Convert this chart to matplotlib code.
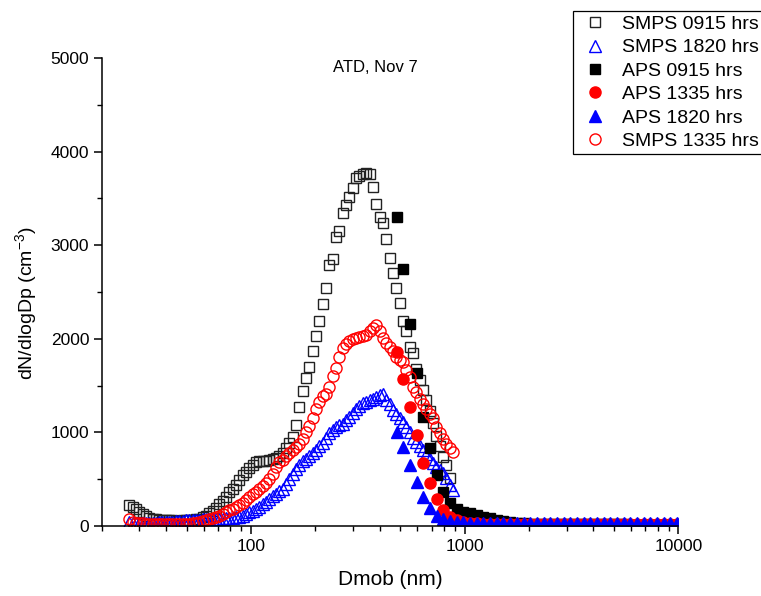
import numpy as np
import matplotlib
matplotlib.use("Agg")
import matplotlib.pyplot as plt
from matplotlib.ticker import MultipleLocator, FuncFormatter, NullFormatter, LogLocator

plt.rcParams["font.family"] = ["Liberation Sans", "DejaVu Sans"]
plt.rcParams["mathtext.fontset"] = "custom"
plt.rcParams["mathtext.rm"] = "Liberation Sans"
plt.rcParams["mathtext.it"] = "Liberation Sans:italic"

# SMPS mobility diameters (nm), 64 channels / decade
smps_d = [26.9, 27.9, 28.9, 30.0, 31.1, 32.2, 33.4, 34.6, 35.9, 37.2,
          38.5, 40.0, 41.4, 42.9, 44.5, 46.1, 47.8, 49.6, 51.4, 53.3,
          55.2, 57.3, 59.4, 61.5, 63.8, 66.1, 68.5, 71.0, 73.7, 76.4,
          79.1, 82.0, 85.1, 88.2, 91.4, 94.7, 98.2, 101.8, 105.5, 109.4,
          113.4, 117.6, 121.9, 126.3, 131.0, 135.8, 140.7, 145.9, 151.2, 156.8,
          162.5, 168.5, 174.7, 181.1, 187.7, 194.6, 201.7, 209.1, 216.7, 224.7,
          232.9, 241.4, 250.3, 259.5, 269.0, 278.8, 289.0, 299.6, 310.6, 322.0,
          333.8, 346.0, 358.7, 371.8, 385.4, 399.5, 414.2, 429.4, 445.1, 461.4,
          478.3, 495.8, 514.0, 532.8, 552.3, 572.5, 593.5, 615.3, 637.8, 661.2,
          685.4, 710.5, 736.5, 763.5, 791.5, 820.5, 850.5, 881.7]

smps_0915 = [224, 200, 178, 153, 128, 107, 89, 78, 72, 68,
             64, 62, 60, 60, 58, 58, 60, 60, 62, 66,
             72, 80, 92, 110, 135, 165, 190, 230, 265, 305,
             360, 400, 440, 490, 545, 580, 620, 655, 685, 698,
             690, 695, 705, 720, 725, 750, 776, 830, 883, 954,
             1079, 1275, 1442, 1578, 1695, 1873, 2033, 2187, 2372, 2546,
             2785, 2856, 3084, 3148, 3340, 3429, 3511, 3608, 3715, 3743,
             3761, 3775, 3761, 3625, 3437, 3305, 3234, 3066, 2867, 2700,
             2539, 2386, 2190, 2083, 1916, 1845, 1674, 1560, 1453, 1346,
             1232, 1100, 960, 850, 740, 652, 510, np.nan]

smps_1335 = [71, 46, 35, 30, 28, 26, 25, 25, 24, 24,
             24, 24, 24, 24, 24, 25, 25, 26, 27, 28,
             30, 38, 50, 64, 71, 85, 100, 112, 125, 153,
             168, 180, 200, 225, 250, 283, 315, 345, 365, 395,
             425, 462, 500, 560, 630, 680, 710, 745, 780, 815,
             845, 875, 935, 1000, 1065, 1150, 1250, 1330, 1385, 1410,
             1480, 1600, 1690, 1810, 1905, 1948, 1980, 1995, 2007, 2020,
             2030, 2045, 2080, 2115, 2150, 2080, 2005, 1950, 1912, 1870,
             1806, 1772, 1750, 1662, 1590, 1488, 1430, 1360, 1300, 1245,
             1195, 1150, 1060, 990, 930, 880, 830, 790]

smps_1820 = [40, 35, 32, 30, 30, 30, 32, 34, 36, 38,
             40, 42, 45, 48, 52, 55, 58, 60, 62, 64,
             66, 68, 70, 70, 72, 74, 76, 78, 80, 82,
             85, 88, 92, 100, 110, 125, 145, 165, 185, 205,
             230, 255, 290, 320, 345, 370, 400, 450, 500, 555,
             605, 650, 690, 720, 745, 780, 812, 850, 890, 940,
             990, 1030, 1055, 1075, 1095, 1130, 1170, 1210, 1245, 1280,
             1310, 1330, 1345, 1360, 1375, 1395, 1415, 1345, 1300, 1240,
             1195, 1150, 1110, 1058, 1000, 945, 895, 850, 810, 765,
             715, 670, 635, 600, 563, 515, 440, 385]

# APS channels converted to mobility diameter (nm)
aps_d = [480, 517, 555, 596, 641, 688, 740, 796, 855, 919,
         987, 1061, 1139, 1224, 1317, 1414, 1519, 1633, 1755, 1886,
         2027, 2178, 2341, 2515, 2703, 2904, 3121, 3354, 3604, 3873,
         4162, 4473, 4807, 5165, 5550, 5965, 6409, 6888, 7402, 7954,
         8547, 9188, 9870]

aps_0915 = [3298, 2743, 2158, 1631, 1168, 830, 545, 360, 242, 178,
            153, 136, 118, 100, 82, 64, 53, 43, 35, 30,
            27, 25, 23, 22, 21, 20, 20, 19, 19, 18,
            18, 18, 17, 17, 17, 16, 16, 16, 16, 15,
            15, 15, 15]

aps_1335 = [1862, 1570, 1275, 972, 670, 456, 290, 171, 100, 64,
            45, 35, 28, 24, 22, 21, 20, 20, 20, 20,
            20, 20, 20, 20, 20, 20, 20, 20, 20, 20,
            20, 20, 20, 20, 20, 20, 20, 20, 20, 20,
            20, 20, 20]

aps_1820 = [1007, 847, 652, 473, 313, 189, 107, 75, 55, 45,
            40, 37, 33, 31, 30, 30, 29, 29, 29, 29,
            28, 28, 28, 28, 28, 28, 28, 28, 28, 28,
            28, 28, 28, 28, 28, 28, 28, 28, 28, 28,
            28, 28, 28]

fig = plt.figure(figsize=(7.61, 5.96), dpi=100)
ax = fig.add_axes([0.1336, 0.1174, 0.7577, 0.7853])

mew = 1.0
ax.plot(smps_d, smps_0915, "s", ms=7.2, mfc="none", mec="#222222", mew=mew, label="SMPS 0915 hrs")
ax.plot(smps_d, smps_1820, "^", ms=8.2, mfc="none", mec="blue", mew=mew, label="SMPS 1820 hrs")
ax.plot(aps_d, aps_0915, "s", ms=7.2, mfc="black", mec="black", mew=mew, label="APS 0915 hrs")
ax.plot(aps_d, aps_1335, "o", ms=8.0, mfc="red", mec="red", mew=mew, label="APS 1335 hrs")
ax.plot(aps_d, aps_1820, "^", ms=8.5, mfc="blue", mec="blue", mew=mew, label="APS 1820 hrs")
ax.plot(smps_d, smps_1335, "o", ms=8.0, mfc="none", mec="red", mew=mew, label="SMPS 1335 hrs")

ax.set_xscale("log")
ax.set_xlim(20, 10000)
ax.set_ylim(0, 5000)

for s in ["top", "right"]:
    ax.spines[s].set_visible(False)
for s in ["left", "bottom"]:
    ax.spines[s].set_linewidth(1.1)

ax.xaxis.set_major_locator(LogLocator(base=10, numticks=10))
ax.xaxis.set_major_formatter(FuncFormatter(lambda v, _: f"{v:g}"))
ax.xaxis.set_minor_locator(LogLocator(base=10, subs=np.arange(2, 10), numticks=10))
ax.xaxis.set_minor_formatter(NullFormatter())
ax.yaxis.set_major_locator(MultipleLocator(1000))
ax.yaxis.set_minor_locator(MultipleLocator(500))

ax.tick_params(which="major", direction="out", length=6, width=1.1, labelsize=12.5, pad=3)
ax.tick_params(which="minor", direction="out", length=3.5, width=1.0)

ax.set_xlabel("Dmob (nm)", fontsize=15, labelpad=12)
ax.set_ylabel("dN/dlogDp (cm$^{-3}$)", fontsize=14)
ax.yaxis.set_label_coords(-0.108, 0.476)

ax.text(0.474, 0.979, "ATD, Nov 7", transform=ax.transAxes, ha="center", va="center", fontsize=12)

leg = ax.legend(loc="upper right", bbox_to_anchor=(1.0026, 0.9815), bbox_transform=fig.transFigure,
                fontsize=14, frameon=True, fancybox=False, edgecolor="black", framealpha=1,
                borderpad=0.22, labelspacing=0.3, handlelength=1.8, handletextpad=0.5,
                borderaxespad=0)
leg.get_frame().set_linewidth(0.9)

fig.savefig("out.png", dpi=100)
